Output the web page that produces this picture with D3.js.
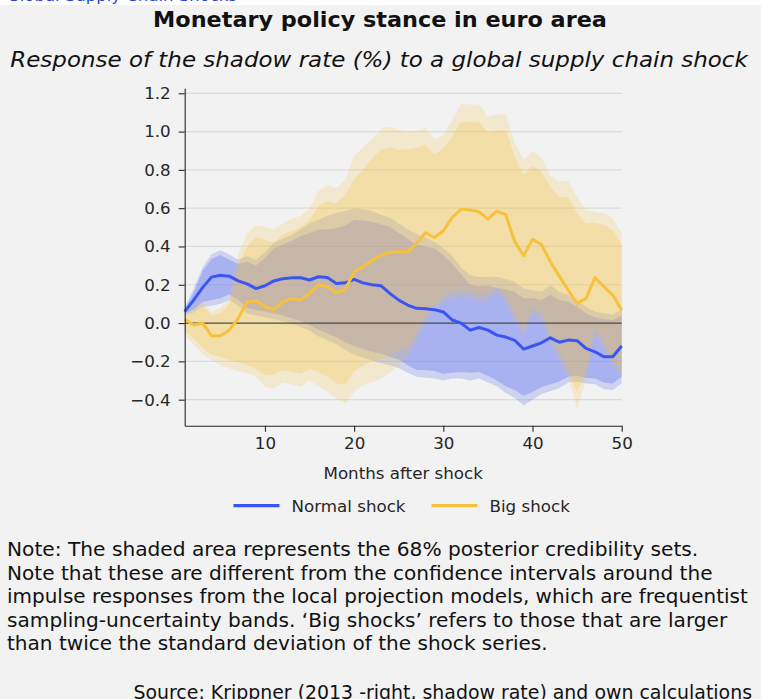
<!DOCTYPE html>
<html>
<head>
<meta charset="utf-8">
<script src="https://cdn.jsdelivr.net/npm/d3@7"></script>
<style>
  html, body { margin: 0; padding: 0; background: #f2f2f2; }
  svg { display: block; }
</style>
</head>
<body>
<svg id="chart" width="761" height="699"></svg>
<script>
// Months after the shock
const months = d3.range(1, 51);

// Shadow-rate response (%) to a normal global supply chain shock
const normalShock = [0.06,0.12,0.185,0.24,0.25,0.245,0.22,0.205,0.18,0.195,
  0.22,0.232,0.236,0.237,0.225,0.242,0.238,0.207,0.21,0.228,
  0.21,0.2,0.195,0.155,0.12,0.094,0.077,0.075,0.07,0.058,
  0.016,0.0,-0.037,-0.023,-0.037,-0.063,-0.073,-0.09,-0.136,-0.12,
  -0.103,-0.077,-0.1,-0.089,-0.092,-0.132,-0.15,-0.176,-0.176,-0.12];
const normalInnerUpper = [0.07,0.16,0.27,0.335,0.355,0.33,0.31,0.32,0.30,0.34,
  0.39,0.41,0.43,0.455,0.47,0.487,0.49,0.495,0.51,0.538,
  0.535,0.53,0.515,0.503,0.47,0.44,0.41,0.40,0.39,0.355,
  0.31,0.255,0.2,0.193,0.198,0.185,0.175,0.163,0.13,0.129,
  0.12,0.146,0.12,0.111,0.085,0.05,0.03,0.02,0.016,0.042];
const normalInnerLower = [0.05,0.07,0.11,0.12,0.13,0.15,0.12,0.08,0.068,0.06,
  0.05,0.04,0.025,0.01,-0.01,-0.035,-0.055,-0.075,-0.1,-0.12,
  -0.135,-0.15,-0.16,-0.176,-0.19,-0.22,-0.245,-0.245,-0.25,-0.265,
  -0.26,-0.255,-0.26,-0.255,-0.275,-0.3,-0.33,-0.35,-0.38,-0.36,
  -0.335,-0.32,-0.305,-0.28,-0.275,-0.285,-0.29,-0.31,-0.315,-0.28];
const normalOuterUpper = [0.08,0.18,0.29,0.36,0.38,0.36,0.33,0.35,0.33,0.37,
  0.42,0.44,0.46,0.49,0.52,0.54,0.56,0.575,0.585,0.6,
  0.595,0.585,0.565,0.55,0.52,0.49,0.465,0.445,0.425,0.39,
  0.35,0.29,0.25,0.24,0.24,0.242,0.23,0.216,0.181,0.172,
  0.165,0.198,0.163,0.146,0.115,0.085,0.06,0.05,0.045,0.07];
const normalOuterLower = [0.04,0.055,0.085,0.09,0.1,0.12,0.09,0.05,0.04,0.03,
  0.02,0.01,-0.005,-0.02,-0.04,-0.07,-0.09,-0.11,-0.14,-0.165,
  -0.18,-0.195,-0.21,-0.22,-0.235,-0.26,-0.28,-0.285,-0.29,-0.3,
  -0.29,-0.29,-0.3,-0.29,-0.31,-0.33,-0.365,-0.39,-0.43,-0.4,
  -0.37,-0.355,-0.34,-0.31,-0.305,-0.315,-0.32,-0.345,-0.35,-0.315];

// Shadow-rate response (%) to a big global supply chain shock
const bigShock = [0.02,-0.01,0.0,-0.066,-0.066,-0.037,0.025,0.11,0.116,0.085,
  0.071,0.11,0.129,0.12,0.155,0.2,0.19,0.158,0.176,0.268,
  0.294,0.325,0.355,0.37,0.372,0.372,0.416,0.472,0.447,0.482,
  0.552,0.595,0.59,0.581,0.543,0.585,0.566,0.425,0.352,0.437,
  0.41,0.32,0.245,0.172,0.103,0.129,0.237,0.19,0.146,0.068];
const bigInnerUpper = [0.04,0.06,0.09,0.04,0.05,0.1,0.3,0.4,0.45,0.433,
  0.42,0.46,0.48,0.5,0.54,0.61,0.635,0.625,0.67,0.75,
  0.8,0.86,0.905,0.92,0.905,0.905,0.915,0.93,0.88,0.912,
  0.975,1.05,1.05,1.048,0.996,1.008,1.004,0.87,0.773,0.82,
  0.79,0.712,0.66,0.656,0.573,0.52,0.524,0.512,0.486,0.407];
const bigInnerLower = [-0.037,-0.08,-0.13,-0.165,-0.176,-0.193,-0.205,-0.22,-0.24,-0.27,
  -0.27,-0.245,-0.255,-0.263,-0.24,-0.255,-0.28,-0.315,-0.324,-0.25,
  -0.22,-0.2,-0.19,-0.17,-0.14,-0.13,-0.05,0.04,0.1,0.14,
  0.165,0.17,0.165,0.145,0.155,0.19,0.145,0.05,-0.03,0.08,
  0.055,-0.06,-0.15,-0.24,-0.36,-0.25,-0.02,-0.1,-0.19,-0.24];
const bigOuterUpper = [0.06,0.085,0.11,0.06,0.077,0.13,0.36,0.47,0.51,0.503,
  0.49,0.52,0.545,0.56,0.6,0.69,0.72,0.705,0.75,0.87,
  0.92,0.96,1.015,1.025,1.01,1.0,1.005,1.02,0.96,0.982,
  1.06,1.144,1.142,1.142,1.077,1.091,1.09,0.94,0.854,0.898,
  0.865,0.773,0.738,0.743,0.66,0.59,0.581,0.573,0.547,0.468];
const bigOuterLower = [-0.063,-0.11,-0.16,-0.193,-0.22,-0.237,-0.25,-0.262,-0.28,-0.333,
  -0.341,-0.31,-0.32,-0.333,-0.3,-0.33,-0.36,-0.393,-0.42,-0.36,
  -0.325,-0.31,-0.29,-0.26,-0.22,-0.18,-0.09,0.01,0.07,0.11,
  0.13,0.135,0.13,0.11,0.12,0.155,0.11,0.01,-0.07,0.04,
  0.016,-0.1,-0.19,-0.28,-0.445,-0.3,-0.06,-0.14,-0.23,-0.28];

// Axis ticks
const xTicks = [10, 20, 30, 40, 50];
const yTicks = [-0.4, -0.2, 0.0, 0.2, 0.4, 0.6, 0.8, 1.0, 1.2];

const seriesNames = ["Normal shock", "Big shock"];
const blue = "#3b55f2";
const yellow = "#f6c13d";

const titleText = "Monetary policy stance in euro area";
const subtitleText = "Response of the shadow rate (%) to a global supply chain shock";
const noteLines = [
  "Note: The shaded area represents the 68% posterior credibility sets.",
  "Note that these are different from the confidence intervals around the",
  "impulse responses from the local projection models, which are frequentist",
  "sampling-uncertainty bands. \u2018Big shocks\u2019 refers to those that are larger",
  "than twice the standard deviation of the shock series."
];
const sourceText = "Source: Krippner (2013 -right, shadow rate) and own calculations";

const svg = d3.select("#chart");
const W = 761, H = 699;

const textFont = "'DejaVu Sans', sans-serif";
const axisFont = "'DejaVu Sans', sans-serif";

// place a text at (px, py) and squeeze it horizontally to a given width
function squeezed(parent, str, px, py, width, anchor, attrs) {
  const t = parent.append("text")
    .attr("x", 0).attr("y", 0)
    .attr("text-anchor", anchor)
    .attr("font-family", textFont)
    .attr("fill", "#111")
    .text(str);
  Object.entries(attrs).forEach(([k, v]) => t.attr(k, v));
  const w = t.node().getComputedTextLength();
  const sx = width / w;
  t.attr("transform", `translate(${px},${py}) scale(${sx.toFixed(4)},1)`);
  return t;
}

// top strip with the end of the preceding link line
svg.append("rect").attr("x", 0).attr("y", 0).attr("width", W).attr("height", 5).attr("fill", "#ffffff");
const clip = svg.append("defs").append("clipPath").attr("id", "topclip");
clip.append("rect").attr("x", 0).attr("y", 0).attr("width", W).attr("height", 5);
svg.append("g").attr("clip-path", "url(#topclip)")
  .append("text")
  .attr("x", 7).attr("y", 0.5)
  .attr("font-family", axisFont).attr("font-size", 16.5)
  .attr("fill", "#2a3fd4")
  .text("Global Supply Chain Shocks");

// Title and subtitle
squeezed(svg, titleText, 380, 27, 454, "middle",
  { "font-weight": "bold", "font-size": 21 });
squeezed(svg, subtitleText, 379, 67, 738, "middle",
  { "font-style": "italic", "font-size": 20.5 });

// Plot scales
const x = d3.scaleLinear().domain([1, 50]).range([184.7, 621.7]);
const y = d3.scaleLinear().domain([-0.536, 1.226]).range([425.7, 88.3]);

const plot = svg.append("g");

// horizontal gridlines
plot.append("g").selectAll("line")
  .data(yTicks.filter(d => d !== 0))
  .join("line")
  .attr("x1", x(1)).attr("x2", x(50))
  .attr("y1", d => y(d)).attr("y2", d => y(d))
  .attr("stroke", "#dcdcdc").attr("stroke-width", 1.2);

const band = (upper, lower) => d3.area()
  .x((d, i) => x(months[i]))
  .y0((d, i) => y(lower[i]))
  .y1((d, i) => y(upper[i]))(months);

// credibility bands: normal shock below, big shock above
plot.append("path").attr("d", band(normalOuterUpper, normalOuterLower))
  .attr("fill", blue).attr("fill-opacity", 0.2);
plot.append("path").attr("d", band(normalInnerUpper, normalInnerLower))
  .attr("fill", blue).attr("fill-opacity", 0.25);
plot.append("path").attr("d", band(bigOuterUpper, bigOuterLower))
  .attr("fill", yellow).attr("fill-opacity", 0.2);
plot.append("path").attr("d", band(bigInnerUpper, bigInnerLower))
  .attr("fill", yellow).attr("fill-opacity", 0.25);

// zero line
plot.append("line")
  .attr("x1", x(1)).attr("x2", x(50))
  .attr("y1", y(0)).attr("y2", y(0))
  .attr("stroke", "#4a4a4a").attr("stroke-width", 1.3);

// response lines
const line = vals => d3.line()
  .x((d, i) => x(months[i]))
  .y((d, i) => y(vals[i]))(months);

plot.append("path").attr("d", line(normalShock))
  .attr("fill", "none").attr("stroke", blue).attr("stroke-width", 3)
  .attr("stroke-linejoin", "round");
plot.append("path").attr("d", line(bigShock))
  .attr("fill", "none").attr("stroke", yellow).attr("stroke-width", 3)
  .attr("stroke-linejoin", "round");

// axes
const yAxis = d3.axisLeft(y).tickValues(yTicks).tickSize(6).tickSizeOuter(0).tickPadding(8)
  .tickFormat(d3.format(".1f"));
const xAxis = d3.axisBottom(x).tickValues(xTicks).tickSize(6).tickSizeOuter(0).tickPadding(5)
  .tickFormat(d3.format("d"));

const gy = svg.append("g").attr("transform", `translate(${x(1)},0)`).call(yAxis);
const gx = svg.append("g").attr("transform", `translate(0,${y(-0.536)})`).call(xAxis);

[gx, gy].forEach(g => {
  g.selectAll("path.domain").attr("stroke", "#262626").attr("stroke-width", 1.1);
  g.selectAll(".tick line").attr("stroke", "#262626").attr("stroke-width", 1.1);
  g.selectAll(".tick text")
    .attr("font-family", axisFont).attr("font-size", 16.7).attr("fill", "#262626");
});

svg.append("text")
  .attr("x", (x(1) + x(50)) / 2).attr("y", 479)
  .attr("text-anchor", "middle")
  .attr("font-family", axisFont).attr("font-size", 16.7).attr("fill", "#262626")
  .text("Months after shock");

// legend
const legend = svg.append("g");
const legendItems = [
  { name: seriesNames[0], color: blue, x0: 233.5 },
  { name: seriesNames[1], color: yellow, x0: 431.5 }
];
legendItems.forEach(it => {
  legend.append("line")
    .attr("x1", it.x0).attr("x2", it.x0 + 46)
    .attr("y1", 505.7).attr("y2", 505.7)
    .attr("stroke", it.color).attr("stroke-width", 3.3);
  legend.append("text")
    .attr("x", it.x0 + 58).attr("y", 511.5)
    .attr("font-family", axisFont).attr("font-size", 16.7).attr("fill", "#262626")
    .text(it.name);
});

// note lines, each set to its measured run width
const noteWidths = [692, 706, 741, 721, 541];
noteLines.forEach((str, i) => {
  squeezed(svg, str, 7, 556 + i * 23.5, noteWidths[i], "start", { "font-size": 19.5 });
});

// source line
squeezed(svg, sourceText, 752, 699, 619, "end", { "font-size": 19.5 });
</script>
</body>
</html>
